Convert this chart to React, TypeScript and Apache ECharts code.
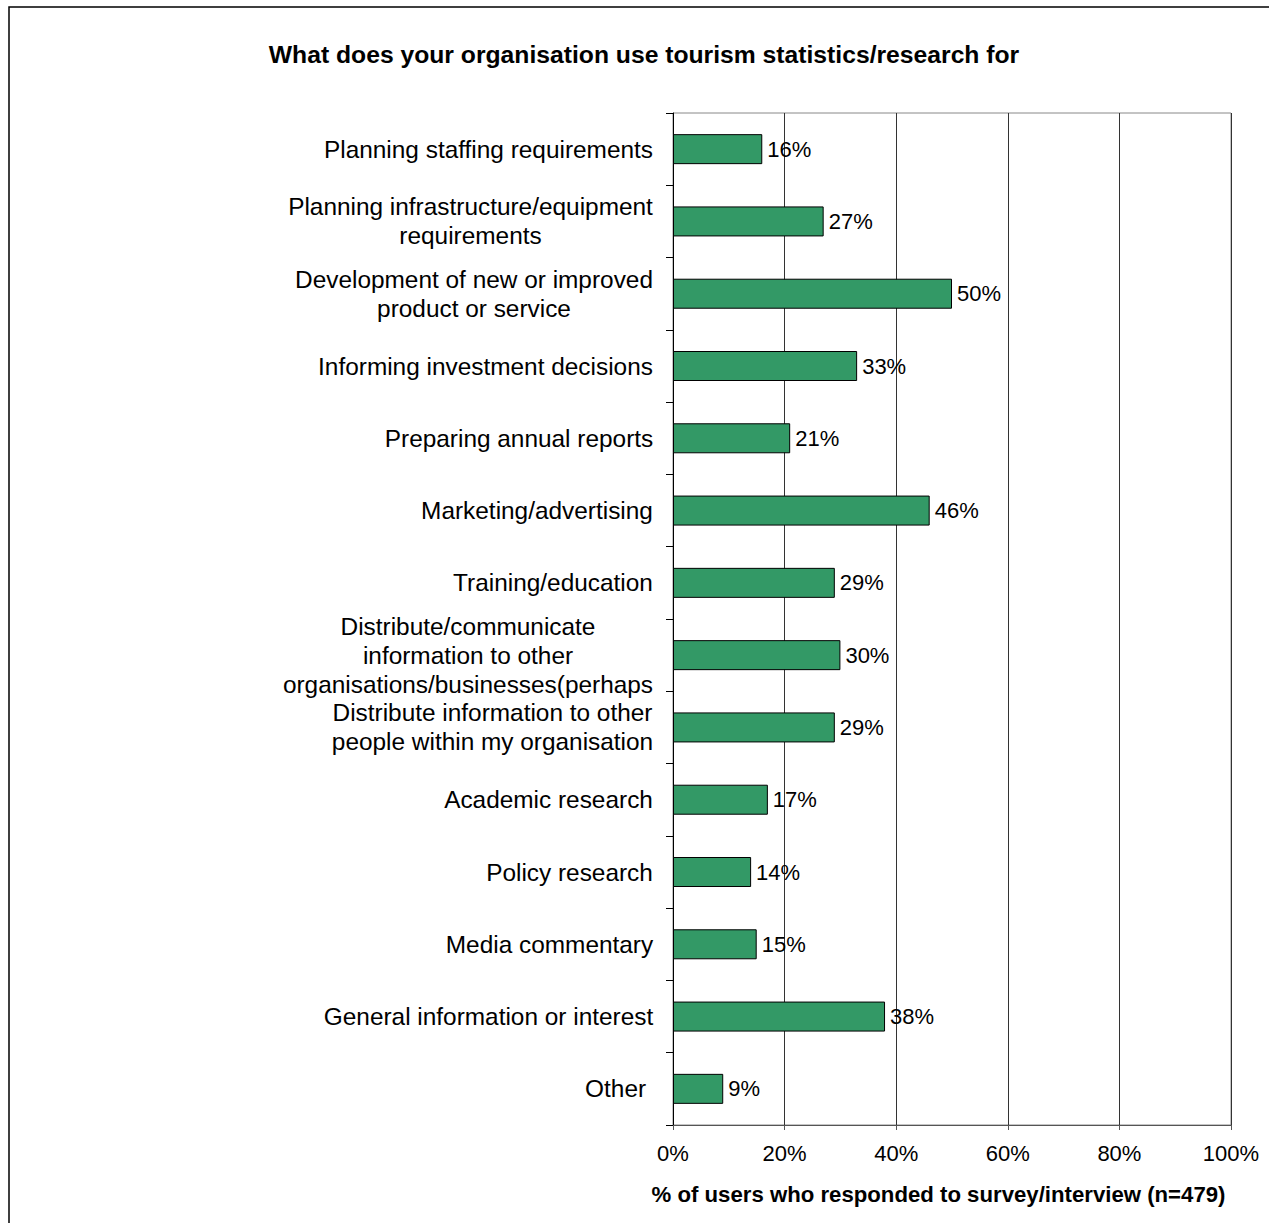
import React, { useEffect, useRef } from "react";
import * as echarts from "echarts";

const TITLE = "What does your organisation use tourism statistics/research for";
const X_NAME = "% of users who responded to survey/interview (n=479)";

const categories = [
  "Planning staffing requirements",
  "Planning infrastructure/equipment\nrequirements",
  "Development of new or improved\nproduct or service",
  "Informing investment decisions",
  "Preparing annual reports",
  "Marketing/advertising",
  "Training/education",
  "Distribute/communicate\ninformation to other\norganisations/businesses(perhaps",
  "Distribute information to other\npeople within my organisation",
  "Academic research",
  "Policy research",
  "Media commentary",
  "General information or interest",
  "Other ",
];

const values = [16, 27, 50, 33, 21, 46, 29, 30, 29, 17, 14, 15, 38, 9];

const xTicks = [0, 20, 40, 60, 80, 100];

const FONT = "'Liberation Sans', Arial, sans-serif";
const LABEL_SIZE = 24.4;

function measure(text: string, size: number): number {
  const c = document.createElement("canvas").getContext("2d");
  if (!c) return text.length * size * 0.5;
  c.font = `${size}px 'Liberation Sans', Arial, sans-serif`;
  return c.measureText(text).width;
}

export default function App() {
  const ref = useRef<HTMLDivElement>(null);

  useEffect(() => {
    if (!ref.current) return;
    const chart = echarts.init(ref.current, null, { renderer: "svg" });

    const yData = categories.map((name) => {
      const lines = name.split("\n");
      const w = Math.max(...lines.map((l) => measure(l, LABEL_SIZE)));
      return {
        value: name,
        textStyle: {
          align: "center",
          padding: [0, Math.round(w), 0, 0],
        },
      };
    });

    chart.setOption({
      animation: false,
      backgroundColor: "#ffffff",
      textStyle: { fontFamily: FONT },
      graphic: [
        {
          type: "rect",
          shape: { x: 9, y: 7, width: 1400, height: 1400 },
          style: { fill: "none", stroke: "#000", lineWidth: 1.5 },
          silent: true,
        },
        {
          type: "text",
          x: 644,
          y: 54,
          style: {
            text: TITLE,
            fontFamily: FONT,
            fontSize: 24.7,
            fontWeight: "bold",
            fill: "#000",
            align: "center",
            verticalAlign: "middle",
          },
        },
      ],
      grid: {
        left: 673,
        right: 38,
        top: 113,
        bottom: 98,
        show: true,
        borderColor: "#888",
        borderWidth: 1,
        containLabel: false,
      },
      xAxis: {
        type: "value",
        min: xTicks[0],
        max: xTicks[xTicks.length - 1],
        interval: 20,
        name: X_NAME,
        nameLocation: "middle",
        nameGap: 58,
        nameTextStyle: {
          fontFamily: FONT,
          fontSize: 22.2,
          fontWeight: "bold",
          color: "#000",
          padding: [0, 27, 0, 0],
        },
        axisLine: { show: true, lineStyle: { color: "#555", width: 1 } },
        axisTick: { show: true, length: 5, lineStyle: { color: "#555" } },
        axisLabel: {
          formatter: "{value}%",
          fontFamily: FONT,
          fontSize: 22,
          color: "#000",
          margin: 17,
        },
        splitLine: { show: true, lineStyle: { color: "#333", width: 1 } },
      },
      yAxis: {
        type: "category",
        data: yData,
        inverse: true,
        axisLine: { show: true, lineStyle: { color: "#000", width: 1 } },
        axisTick: { show: true, length: 7, lineStyle: { color: "#000" } },
        axisLabel: {
          fontFamily: FONT,
          fontSize: LABEL_SIZE,
          color: "#000",
          margin: 20,
          lineHeight: 29,
        },
        splitLine: { show: false },
      },
      series: [
        {
          type: "bar",
          data: values,
          barWidth: 30,
          itemStyle: { color: "#339966", borderColor: "#000", borderWidth: 1 },
          label: {
            show: true,
            position: "right",
            distance: 5,
            formatter: "{c}%",
            fontFamily: FONT,
            fontSize: 22,
            color: "#000",
          },
        },
      ],
    });
    return () => chart.dispose();
  }, []);

  return (
    <div
      ref={ref}
      style={{ position: "absolute", left: 0, top: 0, width: 1269, height: 1223 }}
    />
  );
}
